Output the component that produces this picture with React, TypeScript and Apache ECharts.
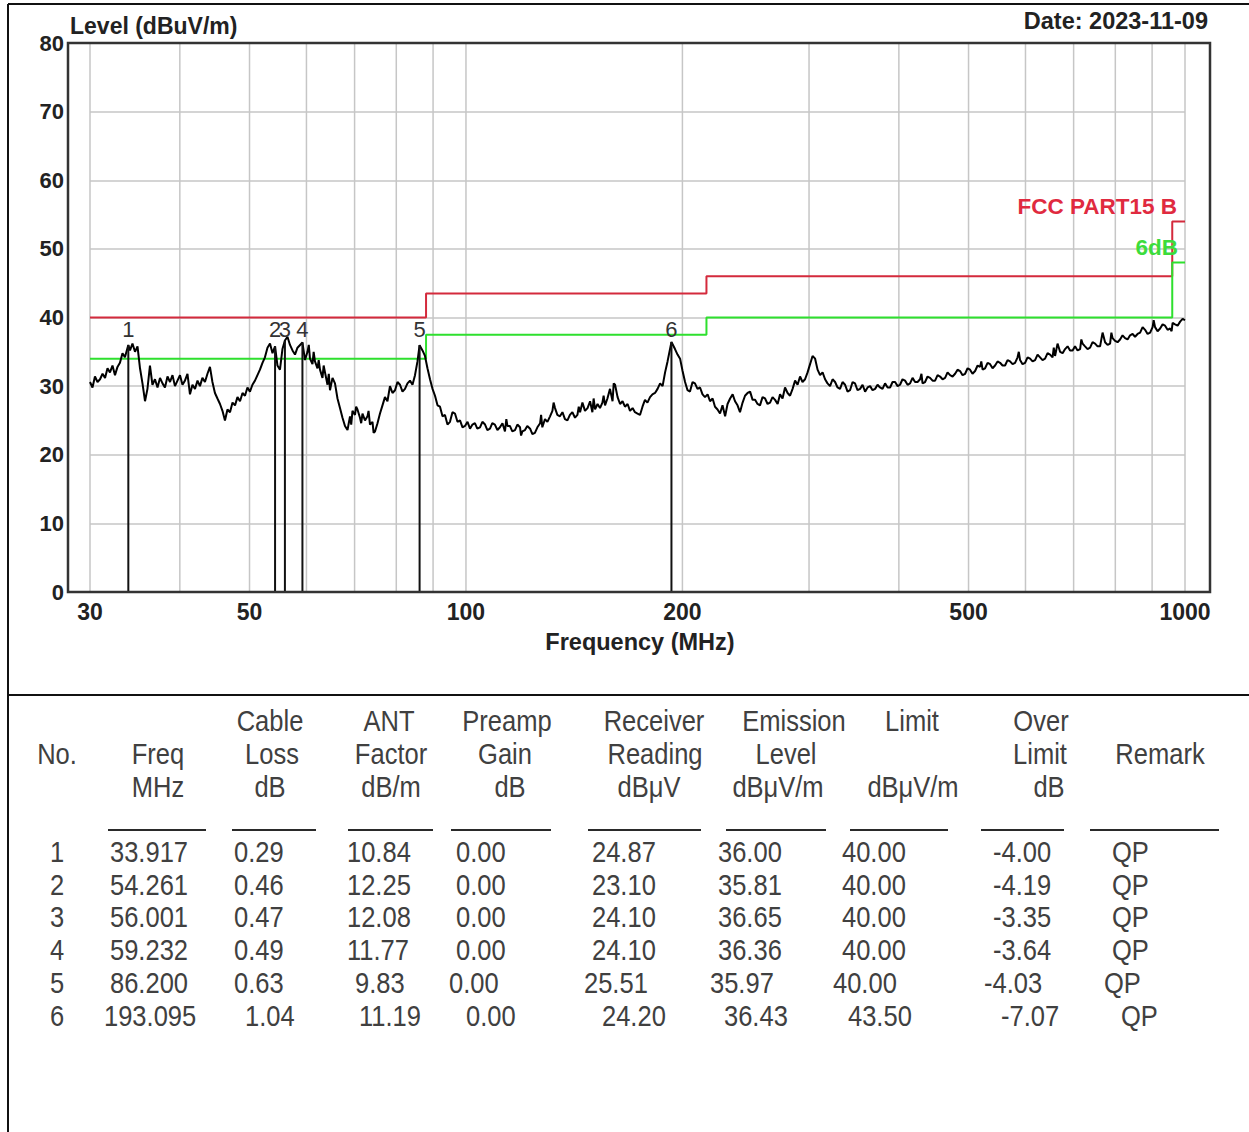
import React, { useEffect, useRef } from "react";
import * as echarts from "echarts";

// ---------- data ----------
// measured trace, [frequency MHz, level dBuV/m], read off the plot
const TRACE_LOW = [
  [30.0, 30.6], [30.24, 29.8], [30.48, 31.4], [30.73, 30.6], [30.98, 31.0], [31.23, 31.8], [31.48, 31.2], [31.73, 32.6],
  [31.98, 32.0], [32.24, 33.0], [32.5, 31.6], [32.76, 32.8], [33.02, 33.4], [33.29, 34.8], [33.55, 34.2], [33.917, 36.0],
  [34.1, 35.2], [34.37, 36.2], [34.65, 35.0], [34.93, 35.8], [35.21, 32.6], [35.49, 30.4], [35.78, 27.8], [36.06, 29.6],
  [36.35, 33.0], [36.64, 30.2], [36.94, 31.0], [37.24, 29.8], [37.54, 31.2], [37.84, 30.4], [38.14, 29.8], [38.45, 31.4],
  [38.76, 30.6], [39.07, 31.6], [39.38, 30.0], [39.7, 30.8], [40.02, 31.6], [40.34, 30.2], [40.66, 30.8], [40.99, 31.8],
  [41.32, 28.8], [41.65, 30.2], [41.99, 29.6], [42.33, 30.8], [42.66, 30.0], [43.0, 31.2], [43.35, 30.6], [43.7, 31.8],
  [44.05, 32.8], [44.4, 30.6], [44.76, 29.0], [45.12, 28.2], [45.49, 27.4], [45.85, 26.4], [46.22, 25.0], [46.59, 26.6],
  [46.97, 26.2], [47.35, 27.6], [47.73, 27.2], [48.11, 28.4], [48.5, 27.8], [48.89, 29.0], [49.28, 28.6], [49.67, 29.8],
  [50.07, 29.2], [50.47, 30.2], [50.88, 30.8], [51.29, 31.6], [51.7, 32.4], [52.12, 33.4], [52.53, 34.2], [52.96, 35.6],
  [53.39, 36.2], [53.82, 34.8], [54.261, 35.81], [54.68, 33.0], [55.12, 32.4], [55.56, 35.4], [56.001, 36.65], [56.46, 37.2],
  [56.92, 36.0], [57.38, 35.2], [57.84, 34.6], [58.3, 35.6], [59.232, 36.36], [59.72, 33.8], [60.2, 35.0], [60.45, 36.0],
  [60.68, 34.0], [61.17, 33.2], [61.4, 35.0], [61.66, 33.6], [62.16, 32.6], [62.4, 33.8], [62.66, 32.4], [63.16, 31.2],
  [63.4, 33.0], [63.67, 32.0], [64.18, 30.2], [64.45, 31.8], [64.7, 29.4], [65.22, 31.2], [65.74, 30.4], [66.27, 28.2],
  [66.8, 26.8], [67.34, 25.4], [67.88, 24.2], [68.43, 23.6], [68.98, 25.6], [69.25, 24.4], [69.53, 26.4], [70.09, 25.8],
  [70.35, 27.0], [70.65, 26.6], [71.22, 25.4], [71.5, 24.6], [71.79, 26.0], [72.37, 25.0], [72.95, 25.6], [73.2, 26.4],
  [73.54, 24.4], [74.13, 24.8], [74.4, 23.2], [74.73, 23.4], [75.33, 24.6], [75.93, 26.0], [76.54, 27.2], [77.15, 28.4],
  [77.77, 27.8], [78.4, 30.0], [79.03, 29.0], [79.67, 29.4], [80.31, 30.6], [80.96, 30.2], [81.61, 29.2], [82.26, 29.6],
  [82.92, 30.4], [83.59, 30.8], [84.26, 30.2], [84.94, 31.6], [85.62, 33.6], [86.2, 35.97], [87.0, 35.2], [87.7, 34.4],
  [88.4, 32.6], [89.12, 31.0], [89.84, 29.6], [90.56, 28.6], [91.29, 27.2], [92.02, 27.0], [92.76, 25.6], [93.5, 25.8],
  [94.25, 24.4], [95.01, 24.8], [95.77, 26.2], [96.54, 26.0], [97.32, 24.8], [98.11, 25.0], [98.9, 24.0], [99.69, 24.2],
];
const TRACE_MID = [
  [100.5, 24.8], [101.3, 23.8], [102.1, 24.4], [102.9, 24.6], [103.7, 23.8], [104.6, 24.0], [105.4, 24.8], [106.3, 24.4],
  [107.1, 23.6], [108.0, 23.8], [108.8, 24.6], [109.7, 24.4], [110.6, 23.6], [111.5, 24.0], [112.4, 24.6], [113.3, 23.4],
  [113.8, 25.2], [114.2, 24.2], [115.1, 24.2], [116.0, 23.4], [117.0, 23.6], [117.9, 24.4], [118.9, 24.0], [119.3, 22.8],
  [119.8, 23.4], [120.8, 23.6], [121.7, 24.2], [122.8, 23.8], [123.7, 23.0], [124.7, 23.2], [125.7, 24.0], [126.8, 24.6],
  [127.2, 25.8], [127.7, 24.0], [128.8, 25.2], [129.8, 24.8], [130.9, 25.6], [131.9, 26.4], [132.4, 27.6], [133.0, 26.8],
  [134.0, 25.8], [135.1, 25.6], [136.2, 26.2], [137.3, 25.2], [138.4, 25.0], [139.5, 25.8], [140.6, 26.2], [141.8, 25.4],
  [142.9, 25.8], [143.5, 27.0], [144.1, 26.2], [145.2, 27.6], [146.4, 26.4], [147.6, 26.8], [148.8, 27.8], [149.9, 26.2],
  [150.5, 28.2], [151.2, 26.6], [152.4, 27.4], [153.6, 26.8], [154.8, 27.6], [155.4, 28.6], [156.1, 27.2], [157.3, 28.2],
  [158.6, 29.6], [159.9, 27.8], [160.5, 30.4], [161.2, 30.2], [162.5, 28.4], [163.8, 27.4], [165.1, 27.8], [166.4, 27.0],
  [167.8, 27.4], [169.1, 26.4], [170.5, 26.8], [171.8, 26.2], [173.2, 26.0], [174.6, 25.8], [176.0, 27.0], [177.4, 28.0],
  [178.8, 27.6], [180.3, 28.4], [181.7, 28.8], [183.2, 29.0], [184.7, 29.6], [186.2, 30.4], [187.7, 30.0], [189.2, 32.0],
  [190.7, 33.6], [193.095, 36.43], [195.3, 35.4], [196.9, 34.6], [198.5, 34.0], [200.1, 32.2], [201.7, 30.6], [203.3, 29.4],
  [204.9, 29.2], [206.6, 30.6], [208.2, 30.4], [209.9, 29.6], [211.6, 29.8], [213.3, 28.8], [215.0, 28.4], [216.8, 28.8],
  [218.5, 27.8], [220.3, 28.2], [222.0, 27.0], [223.8, 26.6], [225.6, 26.0], [227.4, 27.2], [229.3, 25.6], [231.1, 27.4],
  [233.0, 28.2], [234.9, 28.8], [236.7, 27.8], [238.6, 27.2], [240.5, 26.2], [242.5, 27.6], [244.4, 28.6], [246.4, 29.0],
  [248.4, 29.2], [250.4, 28.0], [252.4, 28.0], [254.4, 27.4], [256.4, 27.2], [258.5, 28.4], [260.6, 28.2], [262.7, 27.4],
  [264.8, 27.6], [266.9, 28.4], [269.1, 28.0], [271.3, 27.4], [273.4, 28.8], [275.6, 28.2], [277.8, 29.8], [280.1, 29.0],
  [282.3, 28.6], [284.6, 29.6], [286.9, 30.8], [289.2, 30.2], [291.5, 31.4], [293.8, 30.6], [296.2, 31.0], [298.6, 32.0],
];
const TRACE_HIGH = [
  [301.0, 33.2], [303.4, 34.4], [305.9, 34.0], [308.3, 32.4], [310.8, 31.6], [313.3, 32.0], [315.8, 31.0], [318.3, 30.4],
  [320.9, 30.0], [323.5, 31.0], [326.1, 30.6], [328.7, 29.8], [331.3, 29.6], [334.0, 30.6], [336.7, 30.2], [339.4, 29.2],
  [342.1, 29.4], [344.9, 30.6], [347.6, 30.4], [350.4, 29.4], [353.3, 29.6], [356.1, 30.2], [359.0, 29.2], [361.9, 29.8],
  [364.8, 30.0], [367.7, 29.4], [370.7, 29.6], [373.6, 30.2], [376.6, 29.8], [379.6, 29.6], [382.7, 30.4], [385.8, 29.8],
  [388.9, 29.8], [392.0, 30.6], [395.2, 30.6], [398.4, 30.0], [401.5, 30.2], [404.7, 31.0], [408.0, 30.8], [411.3, 30.2],
  [414.6, 30.4], [417.9, 31.2], [421.3, 30.6], [424.7, 30.6], [428.1, 31.0], [430.0, 31.8], [431.5, 30.4], [435.0, 30.6],
  [438.5, 31.4], [442.0, 31.2], [445.6, 30.8], [449.2, 30.8], [452.8, 31.6], [456.4, 31.4], [460.1, 31.0], [463.8, 31.2],
  [467.5, 32.0], [471.3, 31.6], [475.1, 31.4], [478.9, 31.8], [482.7, 32.4], [486.6, 32.2], [490.5, 31.6], [494.5, 31.8],
  [498.5, 32.6], [502.4, 32.4], [506.4, 31.8], [510.6, 32.2], [514.7, 33.0], [518.8, 32.8], [520.8, 33.6], [523.0, 32.4],
  [527.2, 32.6], [531.4, 33.4], [535.7, 33.2], [540.0, 32.6], [544.3, 33.0], [548.7, 33.6], [553.1, 33.4], [557.5, 33.0],
  [562.0, 33.0], [566.5, 33.8], [571.1, 33.6], [575.7, 33.2], [580.3, 33.4], [585.0, 34.2], [587.3, 35.0], [589.7, 33.8],
  [594.4, 33.2], [599.2, 33.4], [604.0, 34.2], [608.9, 34.0], [613.8, 33.6], [618.7, 33.8], [623.7, 34.6], [628.7, 34.2],
  [633.7, 33.8], [638.8, 34.0], [644.0, 34.8], [649.2, 34.6], [654.4, 34.2], [656.9, 35.6], [659.6, 34.4], [664.9, 36.2],
  [670.3, 35.0], [675.7, 34.8], [681.1, 35.4], [686.6, 35.8], [692.1, 35.2], [697.7, 35.2], [703.2, 35.8], [708.9, 35.2],
  [714.7, 35.4], [717.5, 36.8], [720.4, 36.2], [726.1, 35.8], [732.0, 35.4], [737.9, 35.6], [743.8, 36.4], [749.8, 36.2],
  [755.8, 35.8], [761.9, 35.8], [768.0, 37.8], [774.2, 36.4], [780.4, 36.0], [786.7, 36.2], [790.0, 37.8], [793.0, 37.0],
  [799.4, 36.6], [805.8, 36.4], [812.3, 36.8], [818.8, 37.4], [825.4, 37.0], [832.0, 36.8], [838.8, 37.4], [845.5, 37.6],
  [852.2, 37.2], [859.1, 37.6], [866.1, 37.8], [873.1, 38.6], [880.0, 38.2], [887.1, 37.6], [894.3, 37.8], [901.5, 38.6],
  [904.5, 39.6], [908.6, 38.6], [915.9, 38.0], [923.4, 38.4], [930.8, 39.0], [938.2, 38.8], [945.8, 38.2], [953.5, 38.4],
  [958.0, 38.0], [961.1, 39.2], [968.7, 39.0], [976.6, 38.8], [984.5, 39.4], [992.4, 39.8], [1000.0, 39.6],
];

const LIMIT_EDGES = [30, 88, 216, 960, 1000];
const LIMIT_LEVELS = [40, 43.5, 46, 54];
const MARGIN_DB = 6;

const GRID_FREQS = [30, 40, 50, 60, 70, 80, 90, 100, 200, 300, 400, 500, 600, 700, 800, 900, 1000];
const X_LABEL_FREQS = [30, 50, 100, 200, 500, 1000];
const Y_MIN = 0;
const Y_MAX = 80;
const Y_STEP = 10;

const PEAK_NO = [1, 2, 3, 4, 5, 6];
const PEAK_FREQ = [33.917, 54.261, 56.001, 59.232, 86.2, 193.095];
const PEAK_CABLE = [0.29, 0.46, 0.47, 0.49, 0.63, 1.04];
const PEAK_ANT = [10.84, 12.25, 12.08, 11.77, 9.83, 11.19];
const PEAK_PREAMP = [0, 0, 0, 0, 0, 0];
const PEAK_READING = [24.87, 23.1, 24.1, 24.1, 25.51, 24.2];
const PEAK_LEVEL = [36.0, 35.81, 36.65, 36.36, 35.97, 36.43];
const PEAK_LIMIT = [40, 40, 40, 40, 40, 43.5];
const PEAK_OVER = [-4.0, -4.19, -3.35, -3.64, -4.03, -7.07];
const PEAK_REMARK = ["QP", "QP", "QP", "QP", "QP", "QP"];

const HEADER_LINES = [
  ["", "", "Cable", "ANT", "Preamp", "Receiver", "Emission", "Limit", "Over", ""],
  ["No.", "Freq", "Loss", "Factor", "Gain", "Reading", "Level", "", "Limit", "Remark"],
  ["", "MHz", "dB", "dB/m", "dB", "dBμV", "dBμV/m", "dBμV/m", "dB", ""],
];

// ---------- layout (pixels) ----------
const PEAK_LABEL_LEVEL = 38.2;
const HEADER_X = [
  [0, 0, 270, 389, 507, 654, 794, 912, 1041, 0],
  [57, 158, 272, 391, 505, 655, 786, 0, 1040, 1160],
  [0, 158, 270, 391, 510, 649, 778, 913, 1049, 0],
];
const HEADER_Y = [721, 754, 787];
const UNDERLINES = [
  [108, 206], [232, 316], [348, 433], [451, 551], [588, 701], [726, 826], [850, 948], [981, 1064], [1090, 1219],
];
const ROW_Y = [852, 885, 917, 950, 983, 1016];
const ROW_X_BASE = [57, 110, 234, 347, 456, 592, 718, 842, 993, 1112];
const ROW_X_5 = [57, 110, 234, 355, 449, 584, 710, 833, 984, 1104];
const ROW_X_6 = [57, 104, 245, 359, 466, 602, 724, 848, 1001, 1121];

const FONT = '"Liberation Sans", Arial, sans-serif';
const TABLE_FONT = `29px ${FONT}`;
const TABLE_COLOR = "#404040";
const TABLE_SCALE = 0.88;

function stepPoints(offset: number): number[][] {
  const pts: number[][] = [];
  LIMIT_LEVELS.forEach((lv, i) => {
    pts.push([LIMIT_EDGES[i], lv - offset]);
    pts.push([LIMIT_EDGES[i + 1], lv - offset]);
  });
  return pts;
}

function buildTable(): any[] {
  const els: any[] = [];
  HEADER_LINES.forEach((line, li) => {
    line.forEach((t, ci) => {
      if (!t) return;
      els.push({
        type: "text",
        x: HEADER_X[li][ci],
        y: HEADER_Y[li],
        scaleX: TABLE_SCALE,
        style: { text: t, font: TABLE_FONT, fill: TABLE_COLOR, textAlign: "center", textVerticalAlign: "middle" },
      });
    });
  });
  UNDERLINES.forEach(([a, b]) => {
    els.push({ type: "line", shape: { x1: a, y1: 830, x2: b, y2: 830 }, style: { stroke: "#2a2a2a", lineWidth: 2 } });
  });
  PEAK_NO.forEach((no, r) => {
    const cells = [
      String(no),
      PEAK_FREQ[r].toFixed(3),
      PEAK_CABLE[r].toFixed(2),
      PEAK_ANT[r].toFixed(2),
      PEAK_PREAMP[r].toFixed(2),
      PEAK_READING[r].toFixed(2),
      PEAK_LEVEL[r].toFixed(2),
      PEAK_LIMIT[r].toFixed(2),
      PEAK_OVER[r].toFixed(2),
      PEAK_REMARK[r],
    ];
    const xs = r === 4 ? ROW_X_5 : r === 5 ? ROW_X_6 : ROW_X_BASE;
    cells.forEach((t, ci) => {
      els.push({
        type: "text",
        x: xs[ci],
        y: ROW_Y[r],
        scaleX: TABLE_SCALE,
        style: {
          text: t,
          font: TABLE_FONT,
          fill: TABLE_COLOR,
          textAlign: ci === 0 ? "center" : "left",
          textVerticalAlign: "middle",
        },
      });
    });
  });
  return els;
}

export default function App() {
  const ref = useRef<HTMLDivElement>(null);
  useEffect(() => {
    document.body.style.margin = "0";
    const chart = echarts.init(ref.current!, null, { renderer: "svg" });
    const trace = [...TRACE_LOW, ...TRACE_MID, ...TRACE_HIGH];
    const option: any = {
      animation: false,
      backgroundColor: "#ffffff",
      grid: { left: 90, right: 64, top: 43, bottom: 540 },
      xAxis: {
        type: "log",
        logBase: 10,
        min: 30,
        max: 1000,
        axisLine: { show: false },
        axisTick: { show: false },
        axisLabel: { show: false },
        splitLine: { show: false },
      },
      yAxis: {
        type: "value",
        min: Y_MIN,
        max: Y_MAX,
        interval: Y_STEP,
        axisLine: { show: false },
        axisTick: { show: false },
        axisLabel: { margin: 26, fontSize: 22, fontWeight: "bold", fontFamily: FONT, color: "#222" },
        splitLine: { lineStyle: { color: "#c6c6c6", width: 1.5 } },
      },
      series: [
        {
          type: "custom",
          name: "xgrid",
          silent: true,
          z: 1,
          data: GRID_FREQS.map((f) => [f, Y_MIN]),
          encode: { x: 0, y: 1 },
          renderItem: (_p: any, api: any) => {
            const f = api.value(0);
            const top = api.coord([f, Y_MAX]);
            const bot = api.coord([f, Y_MIN]);
            const children: any[] = [
              { type: "line", shape: { x1: top[0], y1: top[1], x2: bot[0], y2: bot[1] }, style: { stroke: "#c6c6c6", lineWidth: 1.5 } },
            ];
            if (X_LABEL_FREQS.indexOf(f) >= 0) {
              children.push({
                type: "text",
                x: bot[0],
                y: bot[1] + 20,
                style: { text: String(f), font: `bold 23px ${FONT}`, fill: "#222", textAlign: "center", textVerticalAlign: "middle" },
              });
            }
            return { type: "group", children };
          },
        },
        {
          type: "line",
          name: "FCC PART15 B",
          data: stepPoints(0),
          showSymbol: false,
          symbol: "none",
          lineStyle: { color: "#d42a3c", width: 2 },
          z: 3,
        },
        {
          type: "line",
          name: "6dB",
          data: stepPoints(MARGIN_DB),
          showSymbol: false,
          symbol: "none",
          lineStyle: { color: "#2ee02e", width: 2 },
          z: 3,
        },
        {
          type: "line",
          name: "Level",
          data: trace,
          showSymbol: false,
          symbol: "none",
          lineStyle: { color: "#000", width: 2 },
          z: 4,
        },
        {
          type: "custom",
          name: "peaks",
          z: 5,
          data: PEAK_FREQ.map((f, i) => [f, PEAK_LEVEL[i], PEAK_NO[i]]),
          encode: { x: 0, y: 1 },
          renderItem: (_p: any, api: any) => {
            const f = api.value(0);
            const lv = api.value(1);
            const p0 = api.coord([f, Y_MIN]);
            const p1 = api.coord([f, lv]);
            const pl = api.coord([f, PEAK_LABEL_LEVEL]);
            return {
              type: "group",
              children: [
                { type: "line", shape: { x1: p0[0], y1: p0[1], x2: p1[0], y2: p1[1] }, style: { stroke: "#111", lineWidth: 2 } },
                {
                  type: "text",
                  x: pl[0],
                  y: pl[1],
                  style: { text: String(api.value(2)), font: `22px ${FONT}`, fill: "#333", textAlign: "center", textVerticalAlign: "middle" },
                },
              ],
            };
          },
        },
      ],
      graphic: [
        // page frame
        { type: "line", z: 10, shape: { x1: 8, y1: 4, x2: 1249, y2: 4 }, style: { stroke: "#111", lineWidth: 2 } },
        { type: "line", z: 10, shape: { x1: 8, y1: 4, x2: 8, y2: 1132 }, style: { stroke: "#111", lineWidth: 2 } },
        { type: "line", z: 10, shape: { x1: 8, y1: 695, x2: 1249, y2: 695 }, style: { stroke: "#111", lineWidth: 2 } },
        // plot frame
        { type: "rect", z: 10, shape: { x: 68, y: 43, width: 1142, height: 549 }, style: { fill: "none", stroke: "#333", lineWidth: 2.5 } },
        { type: "text", z: 10, x: 70, y: 26, style: { text: "Level (dBuV/m)", font: `bold 23px ${FONT}`, fill: "#222", textAlign: "left", textVerticalAlign: "middle" } },
        { type: "text", z: 10, x: 1208, y: 21, style: { text: "Date: 2023-11-09", font: `bold 23.5px ${FONT}`, fill: "#222", textAlign: "right", textVerticalAlign: "middle" } },
        { type: "text", z: 10, x: 640, y: 642, style: { text: "Frequency (MHz)", font: `bold 23.5px ${FONT}`, fill: "#222", textAlign: "center", textVerticalAlign: "middle" } },
        { type: "text", z: 10, x: 1177, y: 206, style: { text: "FCC PART15 B", font: `bold 22.5px ${FONT}`, fill: "#e02a40", textAlign: "right", textVerticalAlign: "middle" } },
        { type: "text", z: 10, x: 1178, y: 247, style: { text: "6dB", font: `bold 22.5px ${FONT}`, fill: "#3cdc3c", textAlign: "right", textVerticalAlign: "middle" } },
        ...buildTable(),
      ],
    };
    chart.setOption(option);
    return () => chart.dispose();
  }, []);
  return <div ref={ref} style={{ width: 1249, height: 1132, background: "#fff" }} />;
}
